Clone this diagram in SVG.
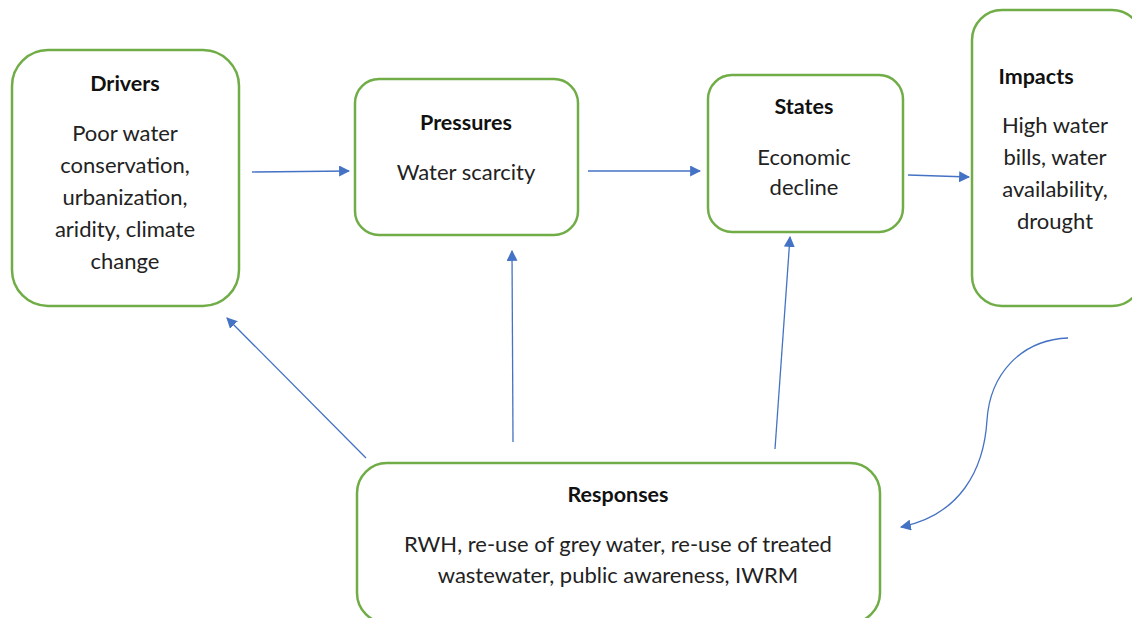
<svg xmlns="http://www.w3.org/2000/svg" width="1132" height="618" viewBox="0 0 1132 618">
<defs>
<style>
.box{fill:#fff;stroke:#70AD47;stroke-width:2.5}
.t{font-family:Lato,"Liberation Sans",sans-serif;font-size:22px;fill:#222;text-anchor:middle}
.b{font-weight:bold;font-size:21.5px;fill:#111}
.c{fill:none;stroke:#4472C4;stroke-width:1.3}
</style>
<marker id="ah" viewBox="0 0 10 10" refX="9" refY="5" markerWidth="11" markerHeight="11" markerUnits="userSpaceOnUse" orient="auto">
<path d="M0,0 L10,5 L0,10 z" fill="#4472C4"/>
</marker>
</defs>
<rect width="1132" height="618" fill="#fff"/>
<g id="drivers">
<rect class="box" x="12" y="50" width="227" height="256" rx="36"/>
<text class="t b" x="125" y="91">Drivers</text>
<text class="t" x="125" y="141">Poor water</text>
<text class="t" x="125" y="173">conservation,</text>
<text class="t" x="125" y="205">urbanization,</text>
<text class="t" x="125" y="237">aridity, climate</text>
<text class="t" x="125" y="269">change</text>
</g>
<g id="pressures">
<rect class="box" x="355" y="79" width="223" height="156" rx="24"/>
<text class="t b" x="466" y="130">Pressures</text>
<text class="t" x="466" y="180">Water scarcity</text>
</g>
<g id="states">
<rect class="box" x="708" y="75" width="195" height="157" rx="24"/>
<text class="t b" x="804" y="114">States</text>
<text class="t" x="804" y="165">Economic</text>
<text class="t" x="804" y="195">decline</text>
</g>
<g id="impacts">
<rect class="box" x="972" y="10" width="170" height="296" rx="30"/>
<text class="t b" x="1036" y="84">Impacts</text>
<text class="t" x="1055" y="133">High water</text>
<text class="t" x="1055" y="165">bills, water</text>
<text class="t" x="1055" y="197">availability,</text>
<text class="t" x="1055" y="229">drought</text>
</g>
<g id="responses">
<rect class="box" x="357" y="463" width="523" height="160" rx="30"/>
<text class="t b" x="618" y="502">Responses</text>
<text class="t" x="618" y="552">RWH, re-use of grey water, re-use of treated</text>
<text class="t" x="618" y="583">wastewater, public awareness, IWRM</text>
</g>
<g id="connectors">
<line class="c" x1="252" y1="172" x2="349" y2="171" marker-end="url(#ah)"/>
<line class="c" x1="588" y1="171" x2="700" y2="171" marker-end="url(#ah)"/>
<line class="c" x1="908" y1="175" x2="969" y2="177" marker-end="url(#ah)"/>
<line class="c" x1="366" y1="458" x2="227" y2="318" marker-end="url(#ah)"/>
<line class="c" x1="513" y1="442" x2="512" y2="251" marker-end="url(#ah)"/>
<line class="c" x1="775" y1="449" x2="790" y2="237" marker-end="url(#ah)"/>
<path class="c" d="M1068,338 C1020,340 990,375 987,420 C984,470 960,515 901,527" marker-end="url(#ah)"/>
</g>
</svg>
